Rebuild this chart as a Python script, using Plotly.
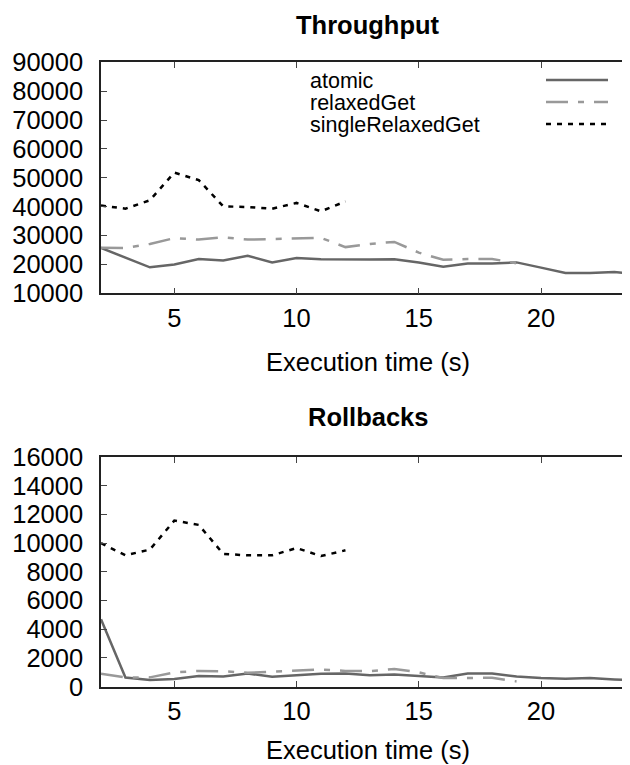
import plotly.graph_objects as go

# ---------------- data ----------------
x_atomic = list(range(2, 25))
x_relaxed = list(range(2, 20))
x_single = list(range(2, 13))

tp_atomic = [25700, 22300, 19000, 20000, 21900, 21350, 23000, 20700, 22200, 21800,
             21700, 21700, 21800, 20700, 19200, 20300, 20300, 20700, 18900, 17000,
             17000, 17400, 16600]
tp_relaxed = [25800, 25650, 27100, 29100, 28600, 29400, 28600, 28800, 28900, 29200,
              26000, 27100, 27800, 24100, 21600, 21900, 21900, 20400]
tp_single = [40400, 39300, 42200, 51800, 49200, 40100, 39900, 39300, 41300, 38400, 41800]

rb_atomic = [4700, 640, 460, 530, 740, 710, 920, 690, 800, 900, 920, 800, 850, 760,
             640, 920, 920, 710, 600, 550, 600, 500, 430]
rb_relaxed = [900, 640, 650, 1000, 1100, 1080, 970, 1060, 1100, 1200, 1100, 1080,
              1240, 1000, 600, 620, 620, 370]
rb_single = [10000, 9150, 9550, 11570, 11270, 9250, 9150, 9150, 9660, 9100, 9500]

series_names = ["atomic", "relaxedGet", "singleRelaxedGet"]
x_ticks = [5, 10, 15, 20]
tp_ticks = list(range(10000, 90001, 10000))
rb_ticks = list(range(0, 16001, 2000))

# ---------------- styles ----------------
OFF = 8            # page body margin
W, H = 622, 765
FONT = "Liberation Sans, Arial, sans-serif"
FS = 25.5
FS_LEG = 21.5
styles = [
    dict(color="#666666", width=2.5, dash="solid"),
    dict(color="#999999", width=2.5, dash="22px,10px,6px,10px"),
    dict(color="#000000", width=2.5, dash="5px,6px"),
]

L = 101 - OFF
def py(y):  # window pixel from top -> paper
    return 1 - (y - OFF) / H
def px(x):
    return (x - OFF - L) / (W - L)

fig = go.Figure()
top = [(x_atomic, tp_atomic), (x_relaxed, tp_relaxed), (x_single, tp_single)]
bot = [(x_atomic, rb_atomic), (x_relaxed, rb_relaxed), (x_single, rb_single)]
for i, (xs, ys) in enumerate(top):
    fig.add_trace(go.Scatter(x=xs, y=ys, mode="lines", name=series_names[i],
                             line=styles[i], xaxis="x", yaxis="y", showlegend=False))
for i, (xs, ys) in enumerate(bot):
    fig.add_trace(go.Scatter(x=xs, y=ys, mode="lines", name=series_names[i],
                             line=styles[i], xaxis="x2", yaxis="y2", showlegend=False))

axis_common = dict(showgrid=False, zeroline=False, showline=True, linecolor="#222222",
                   linewidth=1.5, ticks="inside", ticklen=6, tickcolor="#444444",
                   tickformat="d",
                   tickfont=dict(family=FONT, size=FS, color="#000000"), automargin=False)
xrange = [2, 23.64]
fig.update_layout(
    xaxis=dict(domain=[0, 1], range=xrange, tickvals=x_ticks, anchor="y",
               mirror="ticks", ticklabelstandoff=1, **axis_common),
    yaxis=dict(domain=[py(293.3), py(62.3)], range=[10000, 90000], tickvals=tp_ticks,
               anchor="x", ticklabelstandoff=11, **axis_common),
    xaxis2=dict(domain=[0, 1], range=xrange, tickvals=x_ticks, anchor="y2",
                mirror="ticks", ticklabelstandoff=1, **axis_common),
    yaxis2=dict(domain=[py(686.7), py(457)], range=[0, 16000], tickvals=rb_ticks,
                anchor="x2", ticklabelstandoff=11, **axis_common),
    width=W, height=H, margin=dict(l=L, r=0, t=0, b=0),
    plot_bgcolor="white", paper_bgcolor="white",
)

ann = []
cx = px(368)
def text_ann(text, x, y, size, xanchor="center"):
    return dict(text=text, x=x, y=y, xref="paper", yref="paper", xanchor=xanchor,
                yanchor="middle", showarrow=False,
                font=dict(family=FONT, size=size, color="#000"))

ann.append(text_ann("<b>Throughput</b>", cx, py(25), FS))
ann.append(text_ann("Execution time (s)", cx, py(362), FS))
ann.append(text_ann("<b>Rollbacks</b>", cx, py(417), FS))
ann.append(text_ann("Execution time (s)", cx, py(750), FS))

# manual legend (text left, sample right), as in the reference
rows = [81, 103, 125]
shapes = []
for i, name in enumerate(series_names):
    ann.append(text_ann(name, px(308), py(rows[i]), FS_LEG, xanchor="left"))
    shapes.append(dict(type="line", xref="paper", yref="paper",
                       x0=px(546), x1=px(608), y0=py(rows[i] - 1), y1=py(rows[i] - 1),
                       line=styles[i]))
fig.update_layout(annotations=ann, shapes=shapes)

fig.write_html("out.html")
